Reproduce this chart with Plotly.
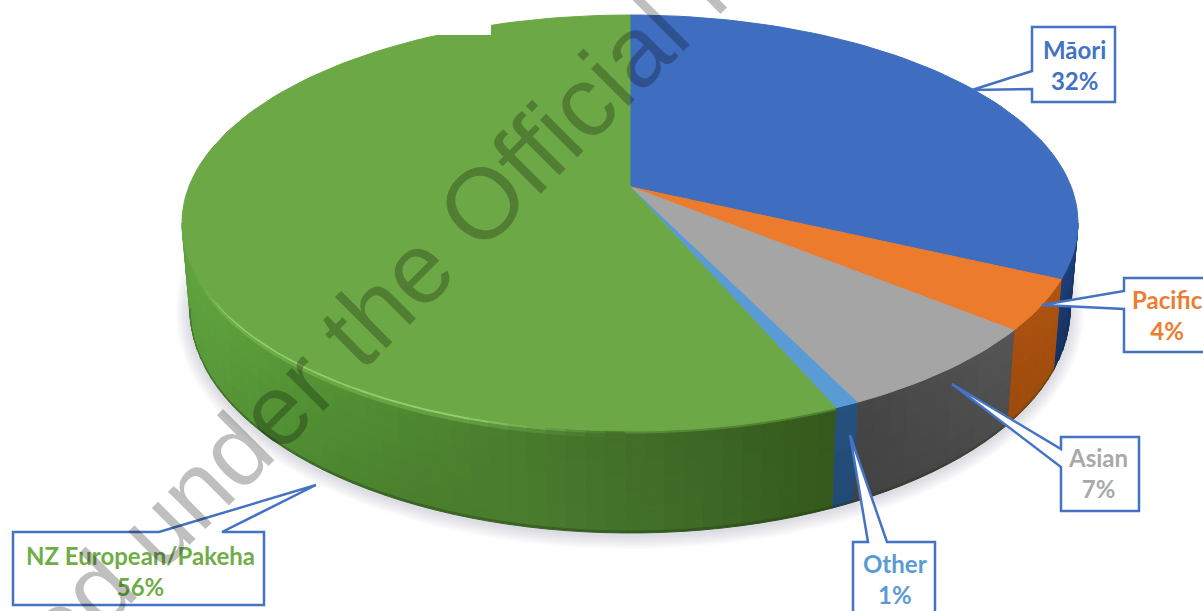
import math
import plotly.graph_objects as go

# ---- data ----
categories = ["Māori", "Pacific", "Asian", "Other", "NZ European/Pakeha"]
values = [32, 3.9, 6.95, 0.75, 56.4]
percent_labels = [32, 4, 7, 1, 56]
face_colors = ["#3f6dbf", "#ed7b2d", "#a5a5a5", "#5b9bd5", "#6ca845"]
text_colors = ["#4472c4", "#ed7d31", "#a9a9a9", "#5b9bd5", "#70ad47"]

W, H = 1203, 611
CX, CY, RX, RY = 630, 223, 448, 208     # top ellipse
BY, BRX, BRY = 310, 440, 223            # bottom ellipse
K = 0.174                               # perspective shift of the pie's centre
APEX_Y = CY - K * RY


def hex2rgb(h):
    return tuple(int(h[i:i + 2], 16) for i in (1, 3, 5))


def mix(a, b, t):
    a, b = hex2rgb(a), hex2rgb(b)
    return "#%02x%02x%02x" % tuple(round(a[i] + (b[i] - a[i]) * t) for i in range(3))


def ramp(stops, x):
    if x <= stops[0][0]:
        return stops[0][1]
    for (x0, c0), (x1, c1) in zip(stops, stops[1:]):
        if x <= x1:
            return mix(c0, c1, (x - x0) / (x1 - x0))
    return stops[-1][1]


def phi_of(pct):
    """Screen ellipse angle for a cumulative share, clockwise from the top."""
    th = math.radians(pct * 3.6)
    x, y = math.sin(th), math.cos(th)
    d = 1 + K * y
    yp = (y + K) / d
    xp = x * math.sqrt(1 - K * K) / d
    return math.atan2(-yp, xp)


def top_pt(p):
    return CX + RX * math.cos(p), CY + RY * math.sin(p)


def bot_pt(p):
    return CX + BRX * math.cos(p), BY + BRY * math.sin(p)


def side_pt(p, t):
    a, b = top_pt(p), bot_pt(p)
    return a[0] + (b[0] - a[0]) * t, a[1] + (b[1] - a[1]) * t


def poly(xs, ys, color):
    return go.Scatter(x=xs, y=ys, mode="lines", fill="toself", fillcolor=color,
                      line=dict(color=color, width=1), hoverinfo="skip", showlegend=False)


fig = go.Figure()

# soft shadow beneath the disc
for d in range(14, 0, -2):
    n = 120
    ps = [math.radians(i * 360 / n) for i in range(n + 1)]
    fig.add_trace(go.Scatter(
        x=[CX + (BRX + d) * math.cos(p) for p in ps],
        y=[BY + 2 + (BRY + d) * math.sin(p) for p in ps],
        mode="lines", fill="toself", fillcolor="rgba(95,85,115,0.03)",
        line=dict(width=0), hoverinfo="skip", showlegend=False))

# cumulative slice boundaries
cum = [0]
for v in values:
    cum.append(cum[-1] + v)

TS = [0, 0.03, 0.07, 0.15, 0.3, 0.45, 0.6, 0.75, 0.9, 0.98, 1]
SIDE = {
    0: ([(1000, "#1d3f7a"), (1080, "#1d3f7a")], [(1000, "#15305f"), (1080, "#15305f")]),
    1: ([(1010, "#a9500f"), (1060, "#b05510")], [(1010, "#9c4a0c"), (1060, "#a04c0c")]),
    2: ([(850, "#444444"), (1015, "#565656")], [(850, "#414141"), (1015, "#4c4c4c")]),
    3: ([(830, "#26517f"), (860, "#26517f")], [(830, "#214a74"), (860, "#214a74")]),
    4: ([(185, "#62a540"), (300, "#569536"), (420, "#4e8931"), (520, "#497c2d"),
         (650, "#3f6b26"), (835, "#33581c")],
        [(185, "#5a9a3a"), (300, "#4d8a31"), (420, "#4a7d2c"), (520, "#4a7c2d"),
         (650, "#41702a"), (835, "#33591c")]),
}

# sides of the slices, front half only
for i in range(len(values)):
    p0, p1 = phi_of(cum[i]), phi_of(cum[i + 1])
    if p1 < p0:
        p1 += 2 * math.pi
    a = max(p0, 0.0)
    b = min(p1, math.pi)
    if b <= a:
        continue
    n = max(2, int(math.degrees(b - a) / 2.5))
    top_st, bot_st = SIDE[i]
    for k in range(n):
        q0 = a + (b - a) * k / n
        q1 = a + (b - a) * (k + 1) / n
        xm = side_pt((q0 + q1) / 2, 0.3)[0]
        for j in range(len(TS) - 1):
            t0, t1 = TS[j], TS[j + 1]
            tm = (t0 + t1) / 2
            col = mix(ramp(top_st, xm), ramp(bot_st, xm), tm)
            if tm > 0.98:
                col = mix(col, "#1f3312", 0.35)
            if i == 4 and tm < 0.07:
                glow = 0.0
                if 190 < xm < 620:
                    glow = min(1, (xm - 190) / 40) * min(1, (620 - xm) / 160)
                col = mix(col, "#8fd165", glow * (1 if tm < 0.03 else 0.35))
                if xm >= 620 and tm < 0.03:
                    col = mix(col, "#6ca845", 0.5)
            pts = [side_pt(q0, t0), side_pt(q1, t0), side_pt(q1, t1), side_pt(q0, t1)]
            fig.add_trace(poly([p[0] for p in pts] + [pts[0][0]],
                               [p[1] for p in pts] + [pts[0][1]], col))

# top faces
for i in range(len(values)):
    p0, p1 = phi_of(cum[i]), phi_of(cum[i + 1])
    if p1 < p0:
        p1 += 2 * math.pi
    n = max(4, int(math.degrees(p1 - p0) / 1.5))
    pts = [top_pt(p0 + (p1 - p0) * k / n) for k in range(n + 1)]
    xs = [CX] + [p[0] for p in pts] + [CX]
    ys = [APEX_Y] + [p[1] for p in pts] + [APEX_Y]
    fig.add_trace(poly(xs, ys, face_colors[i]))

BLUE = "#4472c4"


def path(points):
    return "M " + " L ".join(f"{x},{y}" for x, y in points) + " Z"


boxes = [
    [(1032, 27), (1115, 27), (1115, 102), (1032, 102), (1032, 89), (972, 90), (1032, 71)],
    [(1124, 278), (1210, 278), (1210, 352), (1124, 352), (1124, 309), (1042, 305), (1124, 291)],
    [(1061, 437), (1139, 437), (1139, 511), (1061, 511), (1061, 467), (952, 384), (1061, 449)],
    [(853, 542), (868, 542), (850, 435), (887, 542), (935, 542), (935, 620), (853, 620)],
    [(13, 532), (159, 532), (316, 485), (222, 532), (264, 532), (264, 605), (13, 605)],
]
shapes = [dict(type="rect", x0=430, x1=491, y0=0, y1=35, fillcolor="white",
               line=dict(width=0), layer="above")]
for b in boxes:
    shapes.append(dict(type="path", path=path(b), fillcolor="white",
                       line=dict(color=BLUE, width=2.5), layer="above"))

label_pos = [(1074, 65), (1167, 315), (1098, 473), (895, 579), (140, 571)]
annotations = []
for name, v, c, (x, y) in zip(categories, percent_labels, text_colors, label_pos):
    annotations.append(dict(
        x=x, y=y, xref="x", yref="y", text=f"<b>{name}</b><br><b>{v}%</b>",
        showarrow=False, align="center", xanchor="center", yanchor="middle",
        font=dict(family="Lato, Carlito, sans-serif", size=24, color=c)))

annotations.append(dict(
    x=489, y=196, xref="x", yref="y", text="Released under the Official Information Act",
    showarrow=False, textangle=-45, xanchor="center", yanchor="middle",
    font=dict(family="Liberation Sans, Arial, sans-serif", size=100, color="rgba(0,0,0,0.25)")))

fig.update_layout(
    width=W, height=H, margin=dict(l=0, r=0, t=0, b=0),
    paper_bgcolor="white", plot_bgcolor="white", showlegend=False,
    xaxis=dict(range=[0, W], visible=False, fixedrange=True),
    yaxis=dict(range=[H, 0], visible=False, fixedrange=True),
    shapes=shapes, annotations=annotations,
)
fig.write_html("out.html", config={"displayModeBar": False},
               post_script="document.body.style.margin='0';document.body.style.overflow='hidden';")
